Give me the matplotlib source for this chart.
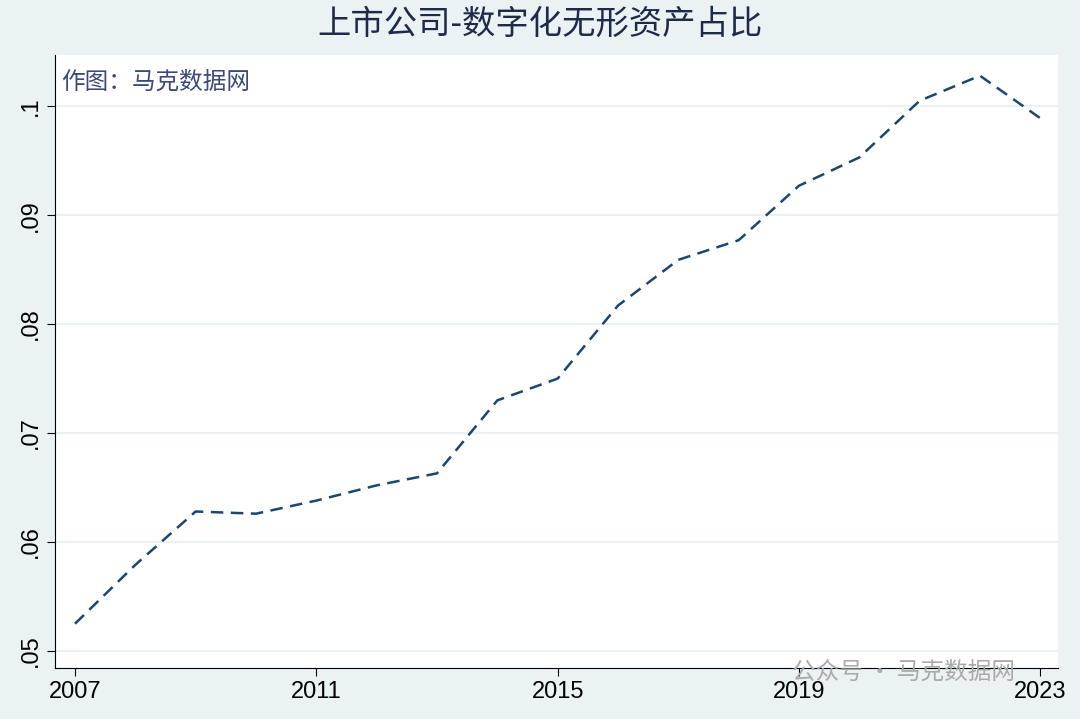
import matplotlib
matplotlib.use("Agg")
import matplotlib.pyplot as plt

plt.rcParams['font.family'] = ['Noto Sans CJK SC', 'DejaVu Sans']

years = list(range(2007, 2024))
values = [0.0525, 0.0579, 0.0628, 0.0626, 0.0638, 0.0652, 0.0663, 0.0730, 0.0750,
          0.0817, 0.0859, 0.0877, 0.0927, 0.0953, 0.1005, 0.1028, 0.0989]
yticks = [0.05, 0.06, 0.07, 0.08, 0.09, 0.1]
ytick_labels = ['.05', '.06', '.07', '.08', '.09', '.1']
xticks = [2007, 2011, 2015, 2019, 2023]

bg = '#eaf2f3'
fig = plt.figure(figsize=(10.8, 7.19), dpi=100, facecolor=bg)
ax = fig.add_axes([0.051, 0.071, 0.929, 0.8525])
ax.set_facecolor('white')
ax.plot(years, values, color='#1a476f', lw=1.8, dashes=(5, 3))
ax.set_xlim(2006.67, 2023.3)
ax.set_ylim(0.04844, 0.1047)
ax.set_yticks(yticks)
ax.set_yticklabels(ytick_labels, rotation=90, va='center', fontsize=17, family='Liberation Sans')
ax.set_xticks(xticks)
ax.set_xticklabels([str(x) for x in xticks], fontsize=17, family='Liberation Sans')
ax.grid(axis='y', color='#eaf2f3', lw=1.5)
for s in ['top', 'right']:
    ax.spines[s].set_visible(False)
ax.spines['left'].set_color('black')
ax.spines['bottom'].set_color('black')
ax.tick_params(length=6)
fig.suptitle('上市公司-数字化无形资产占比', fontsize=24, color='#1e2a4a', y=0.99)
ax.text(0.006, 0.975, '作图：马克数据网', transform=ax.transAxes, fontsize=17,
        color='#3a4a7a', va='top', ha='left')
fig.text(0.94, 0.065, '公众号 · 马克数据网', fontsize=17, color='#aaaaaa', ha='right', va='center')
fig.savefig('out.png', dpi=100, facecolor=bg)
